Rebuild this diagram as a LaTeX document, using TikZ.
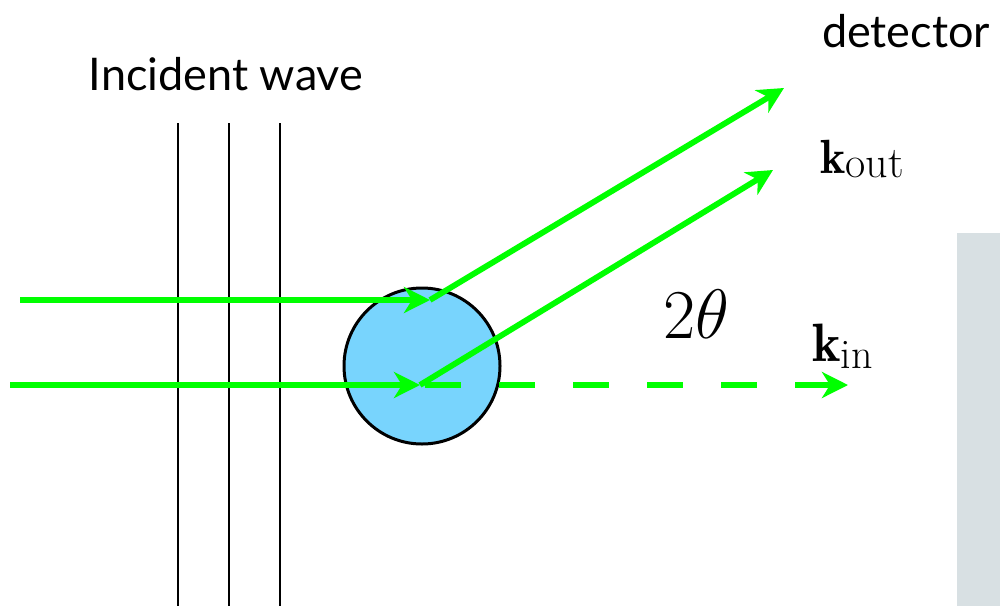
\RequirePackage{fix-cm}
\documentclass[tikz,border=0pt]{standalone}
\usepackage{fontspec}
\setsansfont{Lato}
\usetikzlibrary{arrows.meta}
\definecolor{beamgreen}{RGB}{0,255,0}
\definecolor{ballblue}{RGB}{120,212,253}
\definecolor{panelgray}{RGB}{216,224,227}
\tikzset{
  beam/.style={draw=beamgreen, line width=2.9pt, -{Stealth[length=13pt,width=13pt,inset=4pt]}},
  front/.style={black, line width=0.9pt},
  lbl/.style={font=\sffamily\fontsize{22.5}{27}\selectfont, inner sep=0pt},
  klbl/.style={inner sep=0pt, anchor=base west},
}
\begin{document}
\begin{tikzpicture}[x=0.5pt,y=-0.5pt]
\useasboundingbox (0,0) rectangle (1000,606);
\fill[panelgray] (957,233) rectangle (1000,606);
% wave fronts
\foreach \xx/\nm in {178/f1,229/f2,280/f3}{
  \coordinate (\nm t) at (\xx,123);
  \coordinate (\nm b) at (\xx,606);
  \draw[front] (\nm t) -- (\nm b);
}
% scatterer
\node[circle, draw=black, line width=1.5pt, fill=ballblue, minimum size=78pt, inner sep=0pt] (c) at (422,366) {};
% beams
\coordinate (a1) at (20,300);
\coordinate (p1) at (430,300);
\coordinate (t1) at (784,88);
\coordinate (a2) at (10,385);
\coordinate (p2) at (420,385);
\coordinate (t2) at (773,170);
\coordinate (t3) at (848,385);
\draw[beam, dash pattern=on 18pt off 19pt, dash phase=34.5pt] (p2) -- (t3);
\draw[beam] (a1) -- (p1);
\draw[beam] (p1) -- (t1);
\draw[beam] (a2) -- (p2);
\draw[beam] (p2) -- (t2);
% labels
\node[lbl, anchor=base] (inc) at (226,90) {Incident wave};
\node[lbl, anchor=base] (det) at (906,47) {detector};
\node[klbl] (kout) at (820,173) {{\fontsize{24}{26}\selectfont$\mathbf{k}$}\raisebox{-2pt}{\fontsize{22}{24}\selectfont out}};
\node[klbl] (kin) at (812,361) {{\fontsize{27}{29}\selectfont$\mathbf{k}$}\raisebox{-3.5pt}{\fontsize{21}{23}\selectfont in}};
\node[klbl, font=\fontsize{35}{40}\selectfont] (th) at (663,338) {$2\theta$};
\end{tikzpicture}
\end{document}
